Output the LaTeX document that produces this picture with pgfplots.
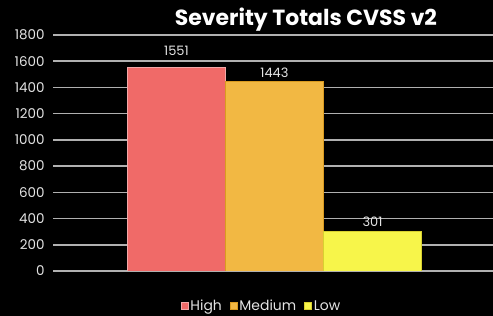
\documentclass[border=0pt]{standalone}
\usepackage{pgfplots}
\pgfplotsset{compat=1.18}
\usepackage{fontspec}
\setmainfont{Poppins}
\definecolor{highc}{HTML}{F06A68}
\definecolor{highe}{HTML}{F2A8A8}
\definecolor{medc}{HTML}{F2B843}
\definecolor{mede}{HTML}{D99A20}
\definecolor{lowc}{HTML}{F7F54A}
\definecolor{lowe}{HTML}{D8D030}
\definecolor{gridc}{HTML}{B0B0B0}
\definecolor{txtc}{HTML}{E4E4E4}
\begin{document}
\begin{tikzpicture}
\fill[black] (0,0) rectangle (493bp,316bp);
\begin{axis}[
  at={(53bp,45bp)}, anchor=south west,
  scale only axis, width=440bp, height=236bp,
  ymin=0, ymax=1800, ytick={0,200,...,1800},
  xmin=-1.26, xmax=3.23,
  xtick=\empty,
  axis line style={draw=none},
  major tick length=0pt,
  ymajorgrids, grid style={gridc, line width=1.5pt},
  yticklabel style={font=\fontsize{13.5}{15}\selectfont, text=txtc, xshift=-5bp},
  /pgf/number format/assume math mode=true,
  /pgf/number format/1000 sep={},
  ybar, bar width=98bp, bar shift=0pt,
  nodes near coords,
  every node near coord/.append style={font=\fontsize{13}{15}\selectfont, text=txtc},
  title={\fontsize{22}{26}\selectfont\bfseries Severity Totals CVSS v2},
  title style={text=white, at={(0.575,1)}, yshift=-6bp},
  legend columns=3,
  legend style={draw=none, fill=none, text=txtc, font=\fontsize{14}{16}\selectfont,
    at={(0.474,-0.148)}, anchor=center, /tikz/every even column/.append style={column sep=6bp}},
  legend image code/.code={\draw[#1, line width=0.6pt] (0bp,-3.5bp) rectangle (7bp,3.5bp);},
]
\addplot[fill=highc, draw=highe, line width=1pt, every node near coord/.append style={yshift=8bp}] coordinates {(0,1551)};
\addplot[fill=medc, draw=mede, line width=1pt] coordinates {(1,1443)};
\addplot[fill=lowc, draw=lowe, line width=1pt, every node near coord/.append style={yshift=1bp}] coordinates {(2,301)};
\legend{High,Medium,Low}
\end{axis}
\pgfresetboundingbox
\useasboundingbox (0,0) rectangle (493bp,316bp);
\end{tikzpicture}
\end{document}
